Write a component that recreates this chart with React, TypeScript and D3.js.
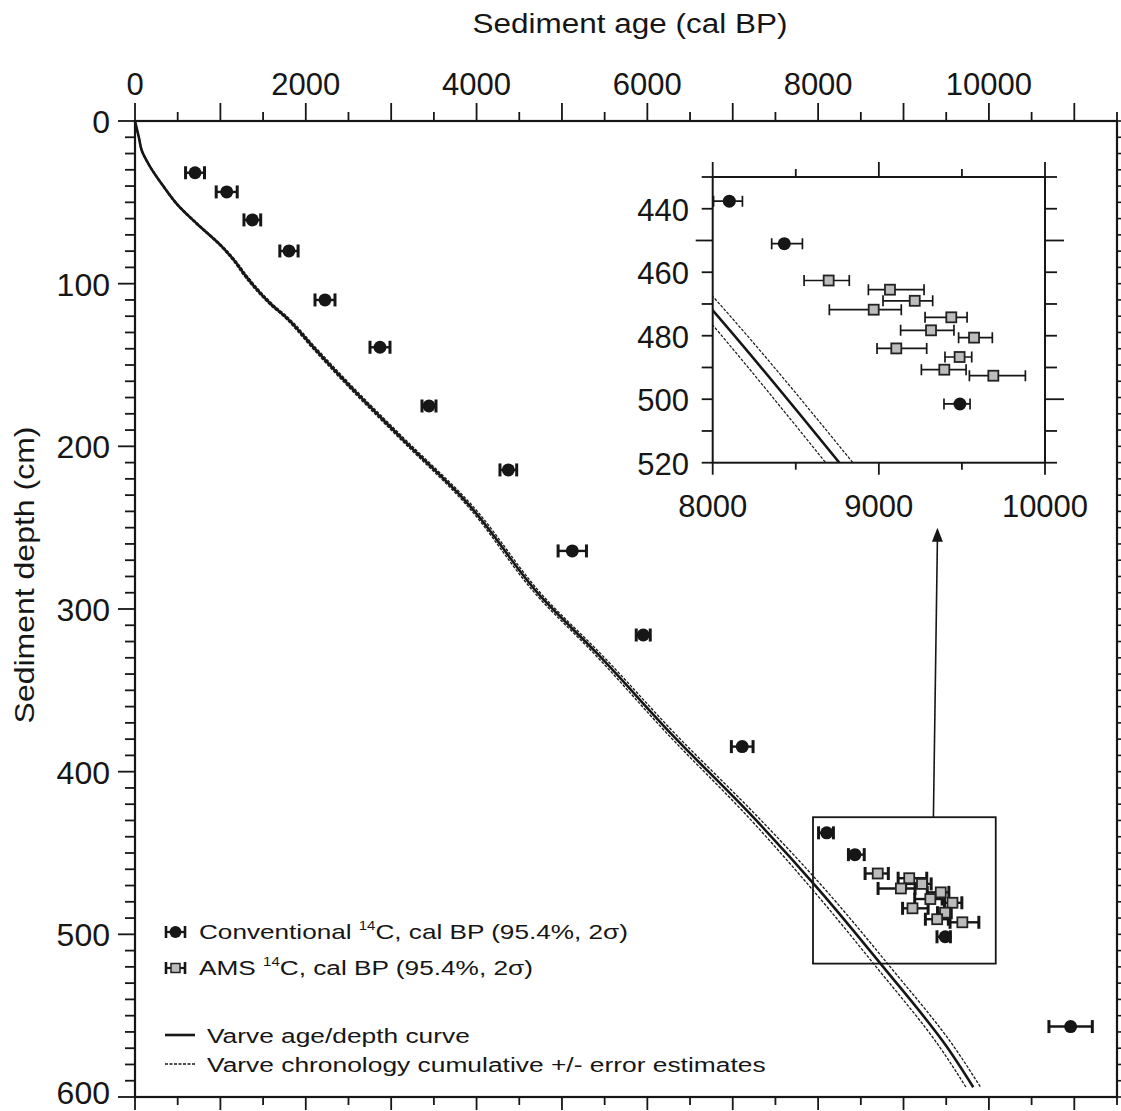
import React, { useEffect, useRef } from 'react';
import * as d3 from 'd3';

// Conventional 14C dates, cal BP (95.4%, 2 sigma)
const convDepth = [31.8, 43.6, 60.8, 79.9, 110, 139.1, 175.2, 214.5, 264.3, 316, 384.6, 437.6, 451, 501.5, 556.7];
const convAge = [703, 1074, 1374, 1803, 2225, 2869, 3443, 4372, 5121, 5952, 7111, 8100, 8431, 9488, 10957];
const convLo = [592, 951, 1276, 1696, 2108, 2752, 3361, 4274, 4955, 5870, 6984, 8005, 8355, 9392, 10703];
const convHi = [814, 1197, 1472, 1910, 2342, 2986, 3525, 4470, 5287, 6034, 7238, 8179, 8540, 9549, 11211];

// AMS 14C dates, cal BP (95.4%, 2 sigma)
const amsDepth = [462.6, 465.5, 469, 471.8, 474.2, 478.3, 480.6, 484, 486.7, 490.7, 492.6];
const amsAge = [8698, 9067, 9216, 8969, 9436, 9314, 9573, 9105, 9486, 9394, 9689];
const amsLo = [8550, 8937, 9025, 8702, 9278, 9131, 9480, 8989, 9398, 9256, 9545];
const amsHi = [8822, 9272, 9324, 9135, 9531, 9452, 9683, 9288, 9559, 9525, 9882];

// varve age/depth curve and cumulative error (+/- years)
const varveDepth = [0, 5, 10, 18, 28, 40, 52, 63, 76, 85, 96, 112, 121, 139, 161, 194, 233, 294, 327, 378, 428, 472, 520, 569, 594];
const varveAge = [0, 22, 45, 78, 176, 331, 507, 722, 995, 1151, 1307, 1581, 1776, 2088, 2479, 3103, 3860, 4781, 5406, 6303, 7240, 8000, 8762, 9505, 9817];
const varveErr = [0, 1, 2, 4, 6, 8, 10, 12, 14, 16, 18, 20, 21, 23, 25, 27, 30, 34, 38, 46, 57, 75, 82, 85, 85];

const xTickLabels = [0, 2000, 4000, 6000, 8000, 10000];
const yTickLabels = [0, 100, 200, 300, 400, 500, 600];
const insetXLabels = [8000, 9000, 10000];
const insetYLabels = [440, 460, 480, 500, 520];
const zoomBoxAge = [7940, 10080];
const zoomBoxDepth = [428, 518];

const legendRows = [
  { pre: 'Conventional ', post: 'C, cal BP (95.4%, 2\u03c3)' },
  { pre: 'AMS ', post: 'C, cal BP (95.4%, 2\u03c3)' },
];
const lineLegend = ['Varve age/depth curve', 'Varve chronology cumulative +/- error estimates'];

const FONT = '"Liberation Sans", Arial, Helvetica, sans-serif';
const INK = '#161616';

export default function App() {
  const ref = useRef<SVGSVGElement>(null);

  useEffect(() => {
    const svg = d3.select(ref.current);
    svg.selectAll('*').remove();

    const x = d3.scaleLinear().domain([0, 11500]).range([135, 1117]);
    const y = d3.scaleLinear().domain([0, 600]).range([121, 1097]);
    const ix = d3.scaleLinear().domain([8000, 10000]).range([712.7, 1045]);
    const iy = d3.scaleLinear().domain([430, 520]).range([177, 462.7]);

    // scale factor that makes a text span a given width
    const fitText = (sel: any, width: number) => width / sel.node().getComputedTextLength();

    // ---- main axes ----
    const [x0, x1] = x.range();
    const [y0, y1] = y.range();
    const ticksX = d3.range(0, 11501, 500);
    const ticksY = d3.range(0, 601, 10);

    svg.append('g').selectAll('line').data(ticksX).enter().append('line')
      .attr('x1', (d) => x(d)).attr('x2', (d) => x(d))
      .attr('y1', y0).attr('y2', (d) => y0 - (d % 1000 === 0 ? 18 : 9))
      .attr('stroke', INK).attr('stroke-width', 1.8);
    svg.append('g').selectAll('line').data(ticksX).enter().append('line')
      .attr('x1', (d) => x(d)).attr('x2', (d) => x(d))
      .attr('y1', y1).attr('y2', (d) => y1 + (d % 1000 === 0 ? 13 : 8))
      .attr('stroke', INK).attr('stroke-width', 1.8);
    svg.append('g').selectAll('line').data(ticksY).enter().append('line')
      .attr('y1', (d) => y(d)).attr('y2', (d) => y(d))
      .attr('x1', x0).attr('x2', (d) => x0 - (d % 100 === 0 ? 17 : 10))
      .attr('stroke', INK).attr('stroke-width', 1.8);
    svg.append('g').selectAll('line').data(ticksY).enter().append('line')
      .attr('y1', (d) => y(d)).attr('y2', (d) => y(d))
      .attr('x1', x1).attr('x2', (d) => x1 + (d % 100 === 0 ? 8 : 6))
      .attr('stroke', INK).attr('stroke-width', 1.6);

    svg.append('rect')
      .attr('x', x0).attr('y', y0).attr('width', x1 - x0).attr('height', y1 - y0)
      .attr('fill', 'none').attr('stroke', INK).attr('stroke-width', 2.2);

    svg.append('g').selectAll('text').data(xTickLabels).enter().append('text')
      .attr('x', (d) => x(d)).attr('y', 95)
      .attr('text-anchor', 'middle').attr('font-family', FONT).attr('font-size', 31).attr('fill', INK)
      .text((d) => d);
    svg.append('g').selectAll('text').data(yTickLabels).enter().append('text')
      .attr('x', 110).attr('y', (d) => Math.min(y(d) + 12, 1104))
      .attr('text-anchor', 'end').attr('font-family', FONT).attr('font-size', 32).attr('fill', INK)
      .text((d) => d);

    // axis titles
    const title = svg.append('text').attr('font-family', FONT).attr('font-size', 27).attr('fill', INK)
      .attr('text-anchor', 'middle').text('Sediment age (cal BP)');
    title.attr('transform', `translate(630,33) scale(${fitText(title, 315)},1)`);

    const ytitle = svg.append('text').attr('font-family', FONT).attr('font-size', 27).attr('fill', INK)
      .attr('text-anchor', 'middle').text('Sediment depth (cm)');
    ytitle.attr('transform', `translate(34,575) rotate(-90) scale(${fitText(ytitle, 297)},1)`);

    // ---- varve curves ----
    const idx = d3.range(varveDepth.length);
    const mkLine = (sx: any, sy: any, off: number) =>
      d3.line<number>()
        .x((i) => sx(varveAge[i] + off * varveErr[i]))
        .y((i) => sy(varveDepth[i]))
        .curve(d3.curveMonotoneY);

    const drawCurves = (g: any, sx: any, sy: any, mainW: number, errW: number) => {
      [-1, 1].forEach((o) => {
        g.append('path').attr('d', mkLine(sx, sy, o)(idx))
          .attr('fill', 'none').attr('stroke', INK).attr('stroke-width', errW)
          .attr('stroke-dasharray', '3,1.5');
      });
      g.append('path').attr('d', mkLine(sx, sy, 0)(idx))
        .attr('fill', 'none').attr('stroke', INK).attr('stroke-width', mainW);
    };

    drawCurves(svg.append('g'), x, y, 2.6, 1.3);

    // ---- dating points ----
    const drawPoints = (g: any, sx: any, sy: any, opt: any) => {
      const bar = (lo: number, hi: number, yy: number) => {
        g.append('line').attr('x1', sx(lo)).attr('x2', sx(hi)).attr('y1', yy).attr('y2', yy)
          .attr('stroke', INK).attr('stroke-width', opt.ew);
        [lo, hi].forEach((v) => {
          g.append('line').attr('x1', sx(v)).attr('x2', sx(v)).attr('y1', yy - opt.cap).attr('y2', yy + opt.cap)
            .attr('stroke', INK).attr('stroke-width', opt.cw);
        });
      };
      amsAge.forEach((a, i) => bar(amsLo[i], amsHi[i], sy(amsDepth[i])));
      convAge.forEach((a, i) => {
        const yy = sy(convDepth[i]);
        bar(convLo[i], convHi[i], yy);
        g.append('circle').attr('cx', sx(a)).attr('cy', yy).attr('r', opt.r).attr('fill', INK);
      });
      amsAge.forEach((a, i) => {
        g.append('rect').attr('x', sx(a) - 5).attr('y', sy(amsDepth[i]) - 5).attr('width', 10).attr('height', 10)
          .attr('fill', '#bcbcbc').attr('stroke', '#222').attr('stroke-width', 1.8);
      });
    };

    drawPoints(svg.append('g'), x, y, { ew: 2.4, cw: 3, cap: 6.5, r: 6.5 });

    // zoom box and arrow
    svg.append('rect')
      .attr('x', x(zoomBoxAge[0])).attr('y', y(zoomBoxDepth[0]))
      .attr('width', x(zoomBoxAge[1]) - x(zoomBoxAge[0])).attr('height', y(zoomBoxDepth[1]) - y(zoomBoxDepth[0]))
      .attr('fill', 'none').attr('stroke', INK).attr('stroke-width', 1.8);
    const ax = x(9350);
    const tipY = iy.range()[1] + 65;
    svg.append('line').attr('x1', ax).attr('x2', ax + 4).attr('y1', y(zoomBoxDepth[0])).attr('y2', tipY + 12)
      .attr('stroke', INK).attr('stroke-width', 1.6);
    svg.append('path')
      .attr('d', `M${ax + 4},${tipY} L${ax - 1.5},${tipY + 14} L${ax + 9.5},${tipY + 14} Z`)
      .attr('fill', INK);

    // ---- inset ----
    const [ix0, ix1] = ix.range();
    const [iy0, iy1] = iy.range();
    const inset = svg.append('g');
    inset.append('rect').attr('x', ix0).attr('y', iy0).attr('width', ix1 - ix0).attr('height', iy1 - iy0)
      .attr('fill', 'white');

    svg.append('defs').append('clipPath').attr('id', 'insetClip').append('rect')
      .attr('x', ix0).attr('y', iy0).attr('width', ix1 - ix0).attr('height', iy1 - iy0);
    const ic = inset.append('g').attr('clip-path', 'url(#insetClip)');
    drawCurves(ic, ix, iy, 2.6, 1.2);
    drawPoints(ic.append('g'), ix, iy, { ew: 1.7, cw: 1.7, cap: 5.5, r: 6.5 });

    const itX = d3.range(8000, 10001, 500);
    const itY = d3.range(430, 521, 10);
    inset.append('g').selectAll('line').data(itX).enter().append('line')
      .attr('x1', (d) => ix(d)).attr('x2', (d) => ix(d))
      .attr('y1', iy0).attr('y2', (d) => iy0 - (d % 1000 === 0 ? 15 : 8))
      .attr('stroke', INK).attr('stroke-width', 1.8);
    inset.append('g').selectAll('line').data(itX).enter().append('line')
      .attr('x1', (d) => ix(d)).attr('x2', (d) => ix(d))
      .attr('y1', iy1).attr('y2', (d) => iy1 + (d % 1000 === 0 ? 12 : 7))
      .attr('stroke', INK).attr('stroke-width', 1.8);
    inset.append('g').selectAll('line').data(itY).enter().append('line')
      .attr('y1', (d) => iy(d)).attr('y2', (d) => iy(d))
      .attr('x1', ix0).attr('x2', (d) => ix0 - (d === 450 ? 17 : 11))
      .attr('stroke', INK).attr('stroke-width', 1.8);
    inset.append('g').selectAll('line').data(itY).enter().append('line')
      .attr('y1', (d) => iy(d)).attr('y2', (d) => iy(d))
      .attr('x1', ix1).attr('x2', (d) => ix1 + (d === 450 || d === 500 ? 19 : 12))
      .attr('stroke', INK).attr('stroke-width', 1.8);
    inset.append('rect').attr('x', ix0).attr('y', iy0).attr('width', ix1 - ix0).attr('height', iy1 - iy0)
      .attr('fill', 'none').attr('stroke', INK).attr('stroke-width', 2);

    inset.append('g').selectAll('text').data(insetXLabels).enter().append('text')
      .attr('x', (d) => ix(d)).attr('y', 517)
      .attr('text-anchor', 'middle').attr('font-family', FONT).attr('font-size', 31).attr('fill', INK)
      .text((d) => d);
    inset.append('g').selectAll('text').data(insetYLabels).enter().append('text')
      .attr('x', 689).attr('y', (d) => iy(d) + 12)
      .attr('text-anchor', 'end').attr('font-family', FONT).attr('font-size', 31).attr('fill', INK)
      .text((d) => d);

    // ---- legend ----
    const lg = svg.append('g');
    const rowY = [932, 968];
    const rowW = [429, 334];
    legendRows.forEach((r, i) => {
      const cy = rowY[i];
      lg.append('line').attr('x1', 166).attr('x2', 185).attr('y1', cy).attr('y2', cy)
        .attr('stroke', INK).attr('stroke-width', 2.2);
      [166, 185].forEach((v) => {
        lg.append('line').attr('x1', v).attr('x2', v).attr('y1', cy - 6).attr('y2', cy + 6)
          .attr('stroke', INK).attr('stroke-width', 2.6);
      });
      if (i === 0) {
        lg.append('circle').attr('cx', 175.5).attr('cy', cy).attr('r', 6).attr('fill', INK);
      } else {
        lg.append('rect').attr('x', 171).attr('y', cy - 4.5).attr('width', 9).attr('height', 9)
          .attr('fill', '#bcbcbc').attr('stroke', '#222').attr('stroke-width', 1.5);
      }
      const t = lg.append('text').attr('font-family', FONT).attr('font-size', 21).attr('fill', INK);
      t.append('tspan').text(r.pre);
      t.append('tspan').attr('font-size', 12).attr('dy', -9).text('14');
      t.append('tspan').attr('dy', 9).text(r.post);
      t.attr('transform', `translate(199,${cy + 7}) scale(${fitText(t, rowW[i])},1)`);
    });

    const lineY = [1035, 1064];
    const lineW = [263, 559];
    lineLegend.forEach((label, i) => {
      lg.append('line').attr('x1', 165).attr('x2', 195).attr('y1', lineY[i]).attr('y2', lineY[i])
        .attr('stroke', INK).attr('stroke-width', i === 0 ? 2.6 : 1.3)
        .attr('stroke-dasharray', i === 0 ? null : '3,1.5');
      const t = lg.append('text').attr('font-family', FONT).attr('font-size', 21).attr('fill', INK).text(label);
      t.attr('transform', `translate(207,${lineY[i] + 8}) scale(${fitText(t, lineW[i])},1)`);
    });
  }, []);

  return (
    <svg ref={ref} width={1121} height={1111} style={{ display: 'block', position: 'absolute', left: 0, top: 0, background: 'white' }} />
  );
}
